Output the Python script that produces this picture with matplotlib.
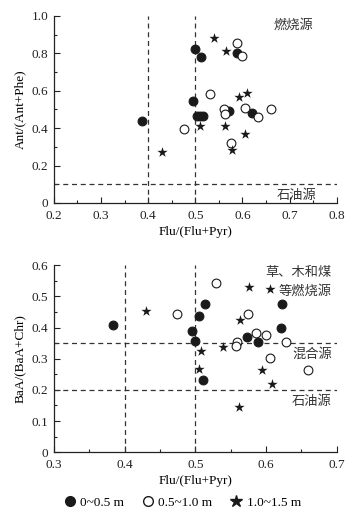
import matplotlib
matplotlib.use("Agg")
import matplotlib.pyplot as plt
from matplotlib.ticker import MultipleLocator, FixedLocator
from matplotlib.lines import Line2D

plt.rcParams['font.family'] = ['Liberation Serif', 'Noto Sans CJK SC', 'DejaVu Sans']
plt.rcParams['axes.unicode_minus'] = False

# ---- top panel: Flu/(Flu+Pyr) vs Ant/(Ant+Phe)
top_f_x = [0.386, 0.500, 0.513, 0.496, 0.503, 0.509, 0.516, 0.572, 0.589, 0.621]
top_f_y = [0.438, 0.825, 0.781, 0.545, 0.463, 0.465, 0.465, 0.494, 0.804, 0.480]
top_o_x = [0.475, 0.531, 0.560, 0.562, 0.576, 0.588, 0.600, 0.606, 0.632, 0.661]
top_o_y = [0.396, 0.581, 0.504, 0.474, 0.321, 0.854, 0.784, 0.508, 0.462, 0.504]
top_s_x = [0.539, 0.565, 0.430, 0.510, 0.563, 0.593, 0.610, 0.606, 0.577]
top_s_y = [0.884, 0.813, 0.273, 0.410, 0.414, 0.567, 0.590, 0.367, 0.282]

# ---- bottom panel: Flu/(Flu+Pyr) vs BaA/(BaA+Chr)
bot_f_x = [0.384, 0.505, 0.514, 0.496, 0.500, 0.511, 0.573, 0.588, 0.623, 0.621]
bot_f_y = [0.409, 0.437, 0.474, 0.390, 0.356, 0.232, 0.369, 0.352, 0.477, 0.399]
bot_o_x = [0.474, 0.530, 0.575, 0.559, 0.558, 0.586, 0.600, 0.629, 0.605, 0.660]
bot_o_y = [0.443, 0.542, 0.442, 0.354, 0.341, 0.384, 0.377, 0.354, 0.302, 0.263]
bot_s_x = [0.430, 0.576, 0.606, 0.563, 0.539, 0.508, 0.505, 0.594, 0.609, 0.562]
bot_s_y = [0.452, 0.529, 0.523, 0.423, 0.339, 0.324, 0.266, 0.263, 0.219, 0.145]

legend_labels = ['0~0.5 m', '0.5~1.0 m', '1.0~1.5 m']

top_xticks = [0.2, 0.3, 0.4, 0.5, 0.6, 0.7, 0.8]
top_yticks = [0, 0.2, 0.4, 0.6, 0.8, 1.0]
top_yticklabels = ['0', '0.2', '0.4', '0.6', '0.8', '1.0']
bot_xticks = [0.3, 0.4, 0.5, 0.6, 0.7]
bot_yticks = [0, 0.1, 0.2, 0.3, 0.4, 0.5, 0.6]
bot_yticklabels = ['0', '0.1', '0.2', '0.3', '0.4', '0.5', '0.6']

fig = plt.figure(figsize=(3.64, 5.15), dpi=100)
ax1 = fig.add_axes([0.148, 0.606, 0.777, 0.363])
ax2 = fig.add_axes([0.148, 0.122, 0.777, 0.363])

fs = 9.5
cjk = ['Noto Sans CJK SC', 'DejaVu Sans']
dash = dict(color='#333333', lw=0.9, ls=(0, (4, 3)))
msz = 40
star_sz = 60

def draw(ax, fx, fy, ox, oy, sx, sy):
    ax.scatter(fx, fy, s=msz, c='#1a1a1a', edgecolors='#1a1a1a', linewidths=0.8, zorder=3)
    ax.scatter(ox, oy, s=msz, facecolors='white', edgecolors='#1a1a1a', linewidths=0.8, zorder=3)
    ax.scatter(sx, sy, s=star_sz, marker='*', c='#1a1a1a', linewidths=0, zorder=3)
    for s in ['top', 'right']:
        ax.spines[s].set_visible(False)
    for s in ['left', 'bottom']:
        ax.spines[s].set_linewidth(0.9)
        ax.spines[s].set_color('#222222')
    ax.tick_params(which='both', direction='in', labelsize=fs, colors='#222222', width=0.8)
    ax.tick_params(which='major', length=4)
    ax.tick_params(which='minor', length=2.5)
    ax.tick_params(axis='x', which='major', pad=5)
    ax.tick_params(axis='y', which='major', pad=4)

draw(ax1, top_f_x, top_f_y, top_o_x, top_o_y, top_s_x, top_s_y)
ax1.set_xlim(0.2, 0.8)
ax1.set_ylim(0, 1.0)
ax1.xaxis.set_major_locator(FixedLocator(top_xticks))
ax1.xaxis.set_minor_locator(MultipleLocator(0.05))
ax1.yaxis.set_major_locator(FixedLocator(top_yticks))
ax1.set_yticklabels(top_yticklabels)
ax1.yaxis.set_minor_locator(MultipleLocator(0.1))
ax1.axvline(0.4, **dash)
ax1.axvline(0.5, **dash)
ax1.axhline(0.1, **dash)
ax1.set_xlabel('Flu/(Flu+Pyr)', fontsize=fs, labelpad=3)
ax1.set_ylabel('Ant/(Ant+Phe)', fontsize=fs, labelpad=4)
ax1.text(0.708, 0.95, '燃烧源', family=cjk, fontsize=fs, ha='center', va='center', color='#333333')
ax1.text(0.715, 0.041, '石油源', family=cjk, fontsize=fs, ha='center', va='center', color='#333333')

draw(ax2, bot_f_x, bot_f_y, bot_o_x, bot_o_y, bot_s_x, bot_s_y)
ax2.set_xlim(0.3, 0.7)
ax2.set_ylim(0, 0.6)
ax2.xaxis.set_major_locator(FixedLocator(bot_xticks))
ax2.xaxis.set_minor_locator(MultipleLocator(0.05))
ax2.yaxis.set_major_locator(FixedLocator(bot_yticks))
ax2.set_yticklabels(bot_yticklabels)
ax2.yaxis.set_minor_locator(MultipleLocator(0.05))
ax2.axvline(0.4, **dash)
ax2.axvline(0.5, **dash)
ax2.axhline(0.35, **dash)
ax2.axhline(0.2, **dash)
ax2.set_xlabel('Flu/(Flu+Pyr)', fontsize=fs, labelpad=3)
ax2.set_ylabel('BaA/(BaA+Chr)', fontsize=fs, labelpad=4)
ax2.text(0.693, 0.577, '草、木和煤', family=cjk, fontsize=fs, ha='right', va='center', color='#333333')
ax2.text(0.693, 0.518, '等燃烧源', family=cjk, fontsize=fs, ha='right', va='center', color='#333333')
ax2.text(0.693, 0.313, '混合源', family=cjk, fontsize=fs, ha='right', va='center', color='#333333')
ax2.text(0.693, 0.164, '石油源', family=cjk, fontsize=fs, ha='right', va='center', color='#333333')

handles = [
    Line2D([], [], ls='none', marker='o', ms=7, mfc='#1a1a1a', mec='#1a1a1a'),
    Line2D([], [], ls='none', marker='o', ms=7, mfc='white', mec='#1a1a1a'),
    Line2D([], [], ls='none', marker='*', ms=9, mfc='#1a1a1a', mec='#1a1a1a'),
]
fig.legend(handles, legend_labels, loc='center', bbox_to_anchor=(0.5, 0.024), ncol=3,
           frameon=False, fontsize=fs, handletextpad=0.3, columnspacing=1.3, handlelength=1.0)

fig.savefig('out.png', dpi=100)
